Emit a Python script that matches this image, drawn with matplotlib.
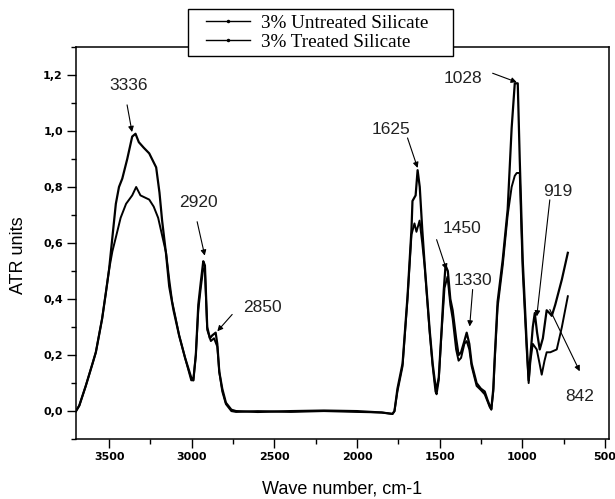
import matplotlib
matplotlib.use('Agg')
import matplotlib.pyplot as plt
from matplotlib.lines import Line2D
from matplotlib.legend_handler import HandlerLine2D
from matplotlib.ticker import MultipleLocator, FuncFormatter

# Spectra (wave number cm-1, ATR units)
wn_untreated = [3700, 3680, 3641, 3600, 3580, 3542, 3520, 3500, 3480, 3459, 3440, 3420,
                3390, 3360, 3340, 3320, 3290, 3257, 3215, 3195, 3179, 3155, 3136, 3110,
                3076, 3040, 3003, 2990, 2975, 2960, 2945, 2930, 2920, 2906, 2890, 2876,
                2855, 2845, 2833, 2815, 2793, 2760, 2732, 2600, 2400, 2200, 2000, 1850,
                1785, 1773, 1755, 1724, 1694, 1670, 1664, 1645, 1633, 1620, 1605, 1591,
                1560, 1542, 1525, 1518, 1505, 1488, 1475, 1464, 1450, 1435, 1421, 1400,
                1385, 1370, 1350, 1336, 1320, 1306, 1276, 1250, 1227, 1210, 1197, 1187,
                1175, 1167, 1149, 1118, 1088, 1064, 1045, 1027, 1015, 997, 973, 961,
                950, 936, 924, 910, 894, 875, 852, 835, 821, 800, 760, 724]
atr_untreated = [0.0, 0.02, 0.09, 0.17, 0.21, 0.33, 0.42, 0.505, 0.62, 0.74, 0.80, 0.83,
                 0.90, 0.98, 0.99, 0.96, 0.94, 0.92, 0.87, 0.78, 0.68, 0.56, 0.445, 0.36,
                 0.27, 0.19, 0.12, 0.11, 0.20, 0.38, 0.46, 0.535, 0.52, 0.30, 0.26, 0.27,
                 0.28, 0.24, 0.14, 0.08, 0.03, 0.005, 0.0, -0.003, 0.0, 0.002, 0.0, -0.005,
                 -0.01, 0.0, 0.08, 0.17, 0.41, 0.65, 0.75, 0.77, 0.86, 0.80, 0.65, 0.53,
                 0.29, 0.17, 0.09, 0.08, 0.12, 0.29, 0.43, 0.52, 0.50, 0.40, 0.36, 0.26,
                 0.20, 0.21, 0.25, 0.28, 0.24, 0.17, 0.10, 0.08, 0.07, 0.04, 0.02, 0.007,
                 0.08, 0.185, 0.39, 0.54, 0.72, 1.01, 1.17, 1.17, 0.90, 0.54, 0.245, 0.11,
                 0.20, 0.30, 0.35, 0.28, 0.22, 0.26, 0.36, 0.35, 0.34, 0.38, 0.47, 0.565]

wn_treated = [3700, 3680, 3641, 3600, 3580, 3542, 3520, 3500, 3480, 3459, 3430, 3397,
              3360, 3336, 3310, 3257, 3230, 3203, 3180, 3155, 3136, 3118, 3100, 3076,
              3040, 3003, 2990, 2975, 2960, 2945, 2930, 2920, 2906, 2884, 2865, 2845,
              2833, 2815, 2793, 2760, 2732, 2600, 2400, 2200, 2000, 1850, 1785, 1773,
              1755, 1724, 1694, 1670, 1652, 1640, 1621, 1605, 1591, 1560, 1542, 1525,
              1518, 1505, 1488, 1470, 1452, 1435, 1421, 1400, 1385, 1370, 1350, 1336,
              1320, 1306, 1276, 1250, 1227, 1210, 1197, 1187, 1175, 1167, 1149, 1118,
              1088, 1064, 1045, 1033, 1015, 1005, 997, 973, 961, 950, 936, 912,
              895, 882, 865, 852, 830, 791, 760, 724]
atr_treated = [0.0, 0.02, 0.09, 0.17, 0.21, 0.33, 0.42, 0.505, 0.57, 0.62, 0.69, 0.74,
               0.77, 0.80, 0.77, 0.755, 0.73, 0.69, 0.63, 0.565, 0.47, 0.39, 0.34, 0.27,
               0.19, 0.11, 0.11, 0.20, 0.36, 0.44, 0.51, 0.50, 0.29, 0.25, 0.26, 0.23,
               0.14, 0.07, 0.025, 0.0, -0.003, 0.0, -0.003, 0.0, -0.003, -0.005, -0.01, 0.0,
               0.07, 0.16, 0.40, 0.63, 0.67, 0.64, 0.68, 0.60, 0.52, 0.28, 0.16, 0.07,
               0.06, 0.11, 0.28, 0.44, 0.48, 0.38, 0.33, 0.22, 0.18, 0.19, 0.24, 0.25,
               0.22, 0.16, 0.09, 0.075, 0.06, 0.035, 0.015, 0.005, 0.07, 0.17, 0.37, 0.52,
               0.70, 0.80, 0.84, 0.85, 0.85, 0.65, 0.50, 0.22, 0.10, 0.18, 0.24, 0.22,
               0.17, 0.13, 0.18, 0.21, 0.21, 0.22, 0.30, 0.41]

# peak labels: text, arrow tip, arrow tail, text position
peak_labels = ['3336', '2920', '2850', '1625', '1450', '1330', '1028', '919', '842']
peak_tips = [(3361, 0.996), (2921, 0.555), (2845, 0.285), (1633, 0.868), (1458, 0.505),
             (1318, 0.302), (1033, 1.174), (912, 0.338), (652, 0.142)]
arrow_tails = [(3391, 1.093), (2967, 0.676), (2755, 0.345), (1694, 0.975), (1518, 0.612),
               (1300, 0.434), (1179, 1.206), (833, 0.754), (833, 0.363)]
text_pos = [(3379, 1.164), (2961, 0.744), (2573, 0.37), (1791, 1.004), (1367, 0.651),
            (1300, 0.466), (1361, 1.189), (785, 0.783), (652, 0.053)]

fig = plt.figure(figsize=(6.15, 4.99), dpi=100)
ax = fig.add_axes([0.1236, 0.12, 0.8666, 0.786])

ax.plot(wn_untreated, atr_untreated, color='black', linewidth=1.6)
ax.plot(wn_treated, atr_treated, color='black', linewidth=1.4)

for lab, tip, tail, tp in zip(peak_labels, peak_tips, arrow_tails, text_pos):
    ax.annotate('', xy=tip, xytext=tail,
                arrowprops=dict(arrowstyle='-|>', color='black', lw=0.8,
                                mutation_scale=8, shrinkA=0, shrinkB=0))
    ax.text(tp[0], tp[1], lab, ha='center', va='center', fontsize=12.5,
            family='Liberation Sans', color='#222222')

ax.set_xlim(3700, 475)
ax.set_ylim(-0.1, 1.3)
ax.xaxis.set_major_locator(MultipleLocator(500))
ax.xaxis.set_minor_locator(MultipleLocator(250))
ax.yaxis.set_major_locator(MultipleLocator(0.2))
ax.yaxis.set_minor_locator(MultipleLocator(0.1))
ax.yaxis.set_major_formatter(FuncFormatter(lambda v, p: f'{v:.1f}'.replace('.', ',')))
ax.xaxis.set_major_formatter(FuncFormatter(lambda v, p: f'{v:.0f}'))
ax.tick_params(which='major', direction='out', length=6.5, width=1, labelsize=8, pad=3)
ax.tick_params(which='minor', direction='out', length=3.5, width=1)
for lbl in ax.get_xticklabels() + ax.get_yticklabels():
    lbl.set_fontweight('bold')
for s in ax.spines.values():
    s.set_linewidth(1.1)

ax.set_xlabel('Wave number, cm-1', fontsize=13, family='Liberation Sans', labelpad=13)
ax.set_ylabel('ATR units', fontsize=13, family='Liberation Sans')
ax.yaxis.set_label_coords(-0.092, 0.47)

handles = [Line2D([], [], color='black', lw=1, marker='.', markersize=3),
           Line2D([], [], color='black', lw=1, marker='.', markersize=3)]
leg = fig.legend(handles, ['3% Untreated Silicate\u2003', '3% Treated Silicate'],
                 loc='upper left', bbox_to_anchor=(0.306, 0.982), borderaxespad=0,
                 fancybox=False, edgecolor='black', framealpha=1,
                 handlelength=2.9, handletextpad=0.6,
                 handler_map={Line2D: HandlerLine2D(xpad=0.65)},
                 prop={'family': 'Liberation Serif', 'size': 13.8},
                 borderpad=0.3, labelspacing=0.05)
leg.get_frame().set_linewidth(1.0)

fig.savefig('out.png', dpi=100)
